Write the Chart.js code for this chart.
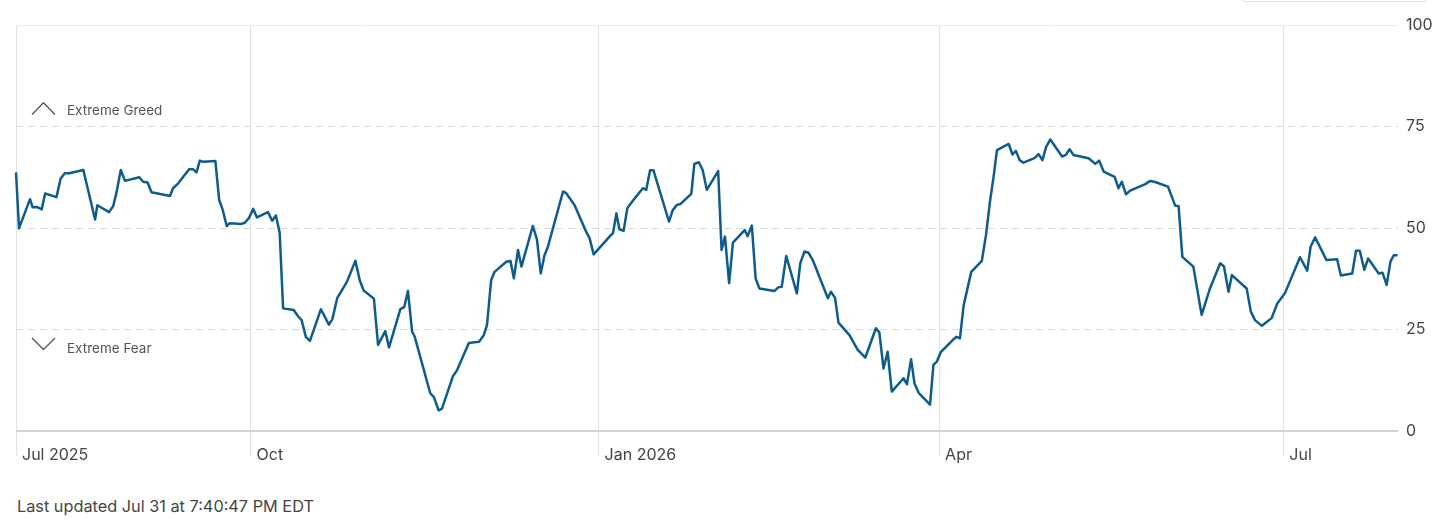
<!DOCTYPE html>
<html lang="en">
<head>
    <meta charset="UTF-8">
    <title>Fear &amp; Greed Index - one year</title>
    <script src="https://cdn.jsdelivr.net/npm/chart.js"></script>
    <style>
        * {
            margin: 0;
            padding: 0;
            box-sizing: border-box;
        }

        body {
            background-color: #fff;
            font-family: 'Inter', 'Noto Sans', sans-serif;
            width: 1456px;
            height: 531px;
            overflow: hidden;
            position: relative;
        }

        .chart-box {
            position: absolute;
            left: 0;
            top: 0;
            width: 1456px;
            height: 480px;
        }

        .tab-edge {
            position: absolute;
            left: 1240px;
            top: -30px;
            width: 188px;
            height: 32px;
            border: 1px solid #e2e2e2;
            border-radius: 5px;
        }

        .updated {
            position: absolute;
            left: 17px;
            top: 496px;
            font-size: 16.3px;
            color: #444;
        }
    </style>
</head>
<body>
    <div class="tab-edge"></div>
    <div class="chart-box">
        <canvas id="fgChart" width="1456" height="480"></canvas>
    </div>
    <div class="updated">Last updated Jul 31 at 7:40:47 PM EDT</div>

    <script>
        // days counted from Jul 31 2025
        const days = [
            0.0, 0.8, 3.7, 4.4, 5.5, 6.8, 7.7, 10.7, 11.8, 12.9,
            14.1, 17.8, 20.9, 21.5, 24.6, 25.7, 26.6, 27.7, 28.8, 32.6,
            33.6, 34.8, 35.8, 40.7, 41.5, 42.9, 44.2, 45.8, 46.8, 47.7,
            48.6, 49.5, 52.7, 53.7, 54.6, 55.7, 56.5, 59.6, 60.5, 61.6,
            62.7, 63.7, 66.6, 67.7, 68.7, 69.7, 70.6, 73.4, 74.6, 75.5,
            76.6, 77.7, 80.6, 82.7, 83.6, 84.9, 87.5, 89.7, 90.9, 91.9,
            94.6, 95.7, 97.6, 98.6, 101.6, 102.6, 103.6, 104.7, 105.4, 109.5,
            110.5, 111.7, 112.6, 115.5, 116.6, 119.7, 122.4, 123.6, 124.5, 125.6,
            126.5, 129.6, 130.7, 131.6, 132.7, 133.6, 136.6, 137.7, 138.7, 139.7,
            140.6, 144.6, 145.4, 147.6, 150.7, 151.6, 152.7, 157.3, 157.8, 158.7,
            159.5, 160.6, 161.6, 163.2, 165.7, 166.6, 167.6, 168.5, 172.6, 173.6,
            174.7, 175.6, 178.5, 179.3, 180.5, 181.5, 182.6, 185.6, 186.5, 187.4,
            188.5, 189.5, 192.6, 193.4, 194.5, 195.5, 196.5, 200.5, 201.5, 202.4,
            203.6, 206.4, 207.3, 208.4, 209.5, 210.6, 214.6, 215.4, 216.5, 217.4,
            220.3, 222.5, 224.5, 227.3, 228.2, 229.3, 230.4, 231.5, 234.6, 235.5,
            236.6, 237.5, 238.6, 241.6, 242.5, 243.4, 244.5, 247.6, 248.6, 249.5,
            250.5, 251.4, 252.5, 255.3, 256.4, 257.5, 258.4, 259.3, 262.4, 263.4,
            264.3, 265.3, 266.3, 269.2, 270.3, 271.3, 272.3, 273.4, 276.5, 277.5,
            278.5, 279.5, 283.5, 285.3, 286.3, 287.5, 290.4, 291.4, 292.3, 293.4,
            294.5, 298.5, 299.8, 300.9, 304.5, 306.4, 307.3, 308.3, 311.2, 313.4,
            315.6, 318.3, 319.3, 320.5, 321.4, 325.3, 326.4, 327.5, 329.3, 331.9,
            333.4, 335.4, 339.4, 341.3, 342.2, 343.4, 346.4, 349.2, 350.2, 353.2,
            354.2, 355.2, 356.4, 357.4, 360.2, 361.2, 362.3, 363.3, 364.2, 365.2
        ];

        const scores = [
            63.7, 49.9, 57.1, 55.1, 55.2, 54.6, 58.5, 57.6, 62.2, 63.5,
            63.5, 64.3, 52.1, 55.6, 53.9, 55.4, 58.9, 64.3, 61.6, 62.5,
            61.4, 61.2, 58.8, 57.9, 59.8, 61.0, 62.6, 64.5, 64.5, 63.7,
            66.6, 66.3, 66.5, 56.9, 54.6, 50.5, 51.2, 51.0, 51.3, 52.5,
            54.7, 52.6, 53.9, 51.8, 53.1, 48.8, 30.2, 29.8, 28.2, 27.3,
            23.2, 22.2, 30.0, 26.2, 27.5, 32.7, 36.8, 41.9, 37.0, 34.6,
            32.6, 21.2, 24.6, 20.6, 30.0, 30.5, 34.5, 24.5, 23.2, 9.3,
            8.3, 5.1, 5.5, 13.5, 15.0, 21.7, 22.0, 23.5, 26.1, 37.2,
            39.2, 41.7, 41.9, 37.6, 44.6, 40.5, 50.5, 47.2, 38.8, 43.3,
            45.4, 59.0, 58.6, 55.7, 49.1, 47.5, 43.5, 48.3, 48.7, 53.6,
            49.7, 49.3, 54.9, 56.9, 59.8, 59.4, 64.2, 64.2, 51.6, 54.4,
            55.7, 55.9, 58.4, 65.8, 66.2, 64.3, 59.4, 64.0, 44.6, 47.9,
            36.4, 46.4, 49.5, 48.0, 50.6, 37.6, 35.1, 34.5, 35.4, 35.5,
            43.1, 33.9, 41.3, 44.2, 43.9, 42.1, 32.7, 34.3, 32.8, 26.7,
            23.6, 20.0, 18.1, 25.3, 24.3, 15.4, 19.5, 9.7, 13.0, 11.5,
            17.7, 11.7, 9.4, 6.5, 16.3, 17.1, 19.5, 22.4, 23.2, 22.8,
            31.0, 34.7, 39.2, 41.9, 48.3, 56.9, 62.6, 69.2, 70.7, 68.1,
            69.0, 66.7, 66.1, 67.2, 68.2, 66.7, 70.0, 71.8, 67.6, 68.0,
            69.4, 68.0, 67.2, 65.8, 66.6, 63.9, 62.6, 59.8, 61.4, 58.3,
            59.2, 60.8, 61.6, 61.4, 60.2, 55.5, 55.4, 42.9, 40.5, 28.6,
            35.1, 41.3, 40.5, 34.3, 38.4, 35.1, 29.4, 27.3, 25.9, 27.8,
            31.4, 33.9, 42.8, 39.5, 45.4, 47.7, 42.1, 42.3, 38.3, 38.8,
            44.4, 44.4, 39.7, 42.5, 38.8, 39.0, 36.0, 41.7, 43.3, 43.3
        ];

        const tickDays = [0, 62, 154, 244, 335];
        const tickLabels = ['Jul 2025', 'Oct', 'Jan 2026', 'Apr', 'Jul'];
        const scoreTicks = [0, 25, 50, 75, 100];

        const FONT = "'Inter', 'Noto Sans', sans-serif";

        // "Extreme Greed" / "Extreme Fear" markers next to the 75 and 25 lines
        const zoneLabels = {
            id: 'zoneLabels',
            beforeDatasetsDraw(chart) {
                const { ctx, chartArea, scales } = chart;
                const x = chartArea.left;
                const gy = scales.y.getPixelForValue(75) - 16;
                const fy = scales.y.getPixelForValue(25) + 19.5;

                ctx.save();
                ctx.strokeStyle = '#555';
                ctx.fillStyle = '#555';
                ctx.lineWidth = 1.3;
                ctx.font = '13.5px ' + FONT;
                ctx.textBaseline = 'middle';

                ctx.beginPath();
                ctx.moveTo(x + 16, gy + 4);
                ctx.lineTo(x + 27.5, gy - 7.8);
                ctx.lineTo(x + 39, gy + 4);
                ctx.stroke();
                ctx.fillText('Extreme Greed', x + 51, gy);

                ctx.beginPath();
                ctx.moveTo(x + 16, fy - 11);
                ctx.lineTo(x + 27.5, fy + 0.5);
                ctx.lineTo(x + 39, fy - 11);
                ctx.stroke();
                ctx.fillText('Extreme Fear', x + 51, fy);
                ctx.restore();
            }
        };

        const ctx = document.getElementById('fgChart').getContext('2d');

        new Chart(ctx, {
            type: 'line',
            data: {
                datasets: [{
                    label: 'Fear & Greed',
                    data: days.map((d, i) => ({ x: d, y: scores[i] })),
                    borderColor: '#0e5c8d',
                    borderWidth: 2.5,
                    pointRadius: 0,
                    tension: 0,
                    borderJoinStyle: 'round',
                    clip: false
                }]
            },
            options: {
                responsive: false,
                animation: false,
                layout: {
                    padding: { left: 16, top: 25, right: 0, bottom: 0 }
                },
                plugins: {
                    legend: { display: false },
                    tooltip: { enabled: false }
                },
                scales: {
                    x: {
                        type: 'linear',
                        min: 0,
                        max: 365.3,
                        afterBuildTicks: scale => {
                            scale.ticks = tickDays.map(v => ({ value: v }));
                        },
                        afterFit: scale => {
                            scale.height = 49;
                        },
                        grid: {
                            color: '#e3e3e3',
                            lineWidth: 1,
                            tickLength: 25,
                            tickColor: '#e3e3e3'
                        },
                        border: { display: false },
                        ticks: {
                            autoSkip: false,
                            maxRotation: 0,
                            align: 'start',
                            labelOffset: 6,
                            padding: -10,
                            color: '#444',
                            font: { family: FONT, size: 16 },
                            callback: value => tickLabels[tickDays.indexOf(value)]
                        }
                    },
                    y: {
                        position: 'right',
                        min: 0,
                        max: 100,
                        afterBuildTicks: scale => {
                            scale.ticks = scoreTicks.map(v => ({ value: v }));
                        },
                        afterFit: scale => {
                            scale.width = 58;
                        },
                        grid: {
                            drawTicks: false,
                            color: c => c.tick.value === 0 ? '#d2d2d2' : (c.tick.value === 100 ? '#ececec' : '#dcdcdc'),
                            lineWidth: c => c.tick.value === 0 ? 2 : 1
                        },
                        border: {
                            display: false,
                            dash: c => (c.tick && c.tick.value % 100 !== 0) ? [7, 5] : []
                        },
                        ticks: {
                            padding: 8,
                            color: '#444',
                            font: { family: FONT, size: 16 }
                        }
                    }
                }
            },
            plugins: [zoneLabels]
        });
    </script>
</body>
</html>
